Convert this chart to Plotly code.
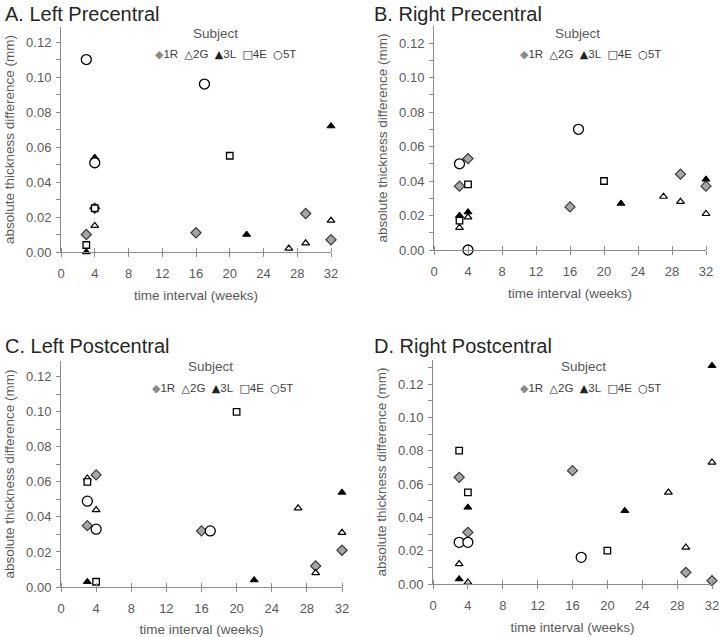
import plotly.graph_objects as go

# ---- data ----
SUBJECTS = ["1R", "2G", "3L", "4E", "5T"]
WEEKS_1R = [3, 4, 16, 29, 32]
WEEKS_2G = [3, 4, 27, 29, 32]
WEEKS_3L = [3, 4, 22, 32]
WEEKS_4E = [3, 4, 20]
WEEKS_5T = [3, 4, 17]

# A. Left Precentral
A_1R = [0.010, 0.025, 0.011, 0.022, 0.007]
A_2G = [None, 0.015, 0.002, 0.005, 0.018]
A_3L = [0.000, 0.054, 0.010, 0.072]
A_4E = [0.004, 0.025, 0.055]
A_5T = [0.110, 0.051, 0.096]

# B. Right Precentral
B_1R = [0.037, 0.053, 0.025, 0.044, 0.037]
B_2G = [0.013, 0.019, 0.031, 0.028, 0.021]
B_3L = [0.020, 0.022, 0.027, 0.041]
B_4E = [0.017, 0.038, 0.040]
B_5T = [0.050, 0.000, 0.070]

# C. Left Postcentral
C_1R = [0.035, 0.064, 0.032, 0.012, 0.021]
C_2G = [0.062, 0.044, 0.045, 0.008, 0.031]
C_3L = [0.003, 0.033, 0.004, 0.054]
C_4E = [0.060, 0.003, 0.100]
C_5T = [0.049, 0.033, 0.032]

# D. Right Postcentral
D_1R = [0.064, 0.031, 0.068, 0.007, 0.002]
D_2G = [0.012, 0.001, 0.055, 0.022, 0.073]
D_3L = [0.003, 0.046, 0.044, 0.131]
D_4E = [0.080, 0.055, 0.020]
D_5T = [0.025, 0.025, 0.016]

PANEL_TITLES = ["A. Left Precentral", "B. Right Precentral",
                "C. Left Postcentral", "D. Right Postcentral"]
X_TICKS = [0, 4, 8, 12, 16, 20, 24, 28, 32]

# ---- styling ----
W, H = 720, 637
FONT = "Liberation Sans, Arial, sans-serif"
AXC = "#8c8c8c"
TXT = "#595959"

STYLES = {
    "1R": dict(symbol="diamond", size=7.8, color="#a6a6a6", line=dict(color="#3a3a3a", width=1.2)),
    "2G": dict(symbol="triangle-up", size=6.8, color="white", line=dict(color="black", width=1.2)),
    "3L": dict(symbol="triangle-up", size=7.0, color="black", line=dict(color="black", width=1.0)),
    "4E": dict(symbol="square", size=6.5, color="white", line=dict(color="black", width=1.3)),
    "5T": dict(symbol="circle", size=10, color="white", line=dict(color="black", width=1.3)),
}

panels = [
    dict(data=[A_1R, A_2G, A_3L, A_4E, A_5T], xd=(61, 331), yd=(252, 27), ymax=0.1286,
         title_xy=(3, 1), subj=(215, 33), items=(225, 54)),
    dict(data=[B_1R, B_2G, B_3L, B_4E, B_5T], xd=(434, 706), yd=(250, 26), ymax=0.1299,
         title_xy=(372, 1), subj=(577, 33), items=(590, 54)),
    dict(data=[C_1R, C_2G, C_3L, C_4E, C_5T], xd=(61, 342), yd=(587, 361), ymax=0.129,
         title_xy=(3, 333), subj=(210, 366), items=(222, 388)),
    dict(data=[D_1R, D_2G, D_3L, D_4E, D_5T], xd=(433, 712), yd=(584, 360), ymax=0.1344,
         title_xy=(372, 333), subj=(583, 366), items=(590, 388)),
]
weeks = [WEEKS_1R, WEEKS_2G, WEEKS_3L, WEEKS_4E, WEEKS_5T]

fig = go.Figure()
annotations = []
layout_axes = {}

G = "<span style='font-family:DejaVu Sans;font-size:11px;color:#222222'>{}</span>"
legend_text = ("<span style='font-family:DejaVu Sans;font-size:11px;color:#8a8a8a'>◆</span>1R&nbsp;&nbsp;"
               + G.format("△") + "2G&nbsp;&nbsp;"
               + G.format("▲") + "3L&nbsp;&nbsp;"
               + G.format("□") + "4E&nbsp;&nbsp;"
               + G.format("○") + "5T")

for i, p in enumerate(panels):
    n = "" if i == 0 else str(i + 1)
    xa, ya = "x" + n, "y" + n
    for s, wk, vals in zip(SUBJECTS, weeks, p["data"]):
        st = STYLES[s]
        fig.add_trace(go.Scatter(
            x=wk, y=vals, mode="markers", name=s, showlegend=False,
            xaxis=xa, yaxis=ya, cliponaxis=False,
            marker=dict(symbol=st["symbol"], size=st["size"], color=st["color"], line=st["line"]),
        ))
    x0, x1 = p["xd"]
    yb, yt = p["yd"]
    layout_axes["xaxis" + n] = dict(
        domain=[x0 / W, x1 / W], anchor=ya, range=[0, 32], automargin=False,
        tickmode="array", tickvals=X_TICKS, ticklabeloverflow="allow",
        showline=True, linecolor=AXC, linewidth=1, showgrid=False, zeroline=False,
        ticks="outside", ticklen=4, tickcolor=AXC, tickwidth=1,
        minor=dict(ticks="inside", tickmode="array", tickvals=[v + 0.001 for v in X_TICKS],
                   ticklen=4, tickcolor=AXC, tickwidth=1),
        tickfont=dict(family=FONT, size=13, color=TXT), ticklabelstandoff=5,
        title=dict(text="time interval (weeks)", font=dict(family=FONT, size=13.5, color=TXT),
                   standoff=10),
    )
    layout_axes["yaxis" + n] = dict(
        domain=[1 - yb / H, 1 - yt / H], anchor=xa, range=[0, p["ymax"]], automargin=False,
        dtick=0.02, tick0=0, tickformat=".2f", ticklabeloverflow="allow",
        showline=True, linecolor=AXC, linewidth=1, showgrid=False, zeroline=False,
        ticks="outside", ticklen=4, tickcolor=AXC, tickwidth=1,
        minor=dict(ticks="outside", dtick=0.01, ticklen=4, tickcolor=AXC, tickwidth=1),
        tickfont=dict(family=FONT, size=13, color=TXT), ticklabelstandoff=2,
        title=dict(text="absolute thickness difference (mm)",
                   font=dict(family=FONT, size=13.5, color=TXT), standoff=8),
    )
    tx, ty = p["title_xy"]
    annotations.append(dict(text=PANEL_TITLES[i], xref="paper", yref="paper",
                            x=tx / W, y=1 - ty / H, xanchor="left", yanchor="top",
                            showarrow=False, font=dict(family=FONT, size=20, color="#262626")))
    sx, sy = p["subj"]
    annotations.append(dict(text="Subject", xref="paper", yref="paper",
                            x=sx / W, y=1 - sy / H, xanchor="center", yanchor="middle",
                            showarrow=False, font=dict(family=FONT, size=13.5, color=TXT)))
    ix, iy = p["items"]
    annotations.append(dict(text=legend_text, xref="paper", yref="paper",
                            x=ix / W, y=1 - iy / H, xanchor="center", yanchor="middle",
                            showarrow=False, font=dict(family=FONT, size=11.5, color="#404040")))

fig.update_layout(
    width=W, height=H, margin=dict(l=0, r=0, t=0, b=0),
    paper_bgcolor="white", plot_bgcolor="white", showlegend=False,
    annotations=annotations, **layout_axes,
)

fig.write_html("out.html", config={"displayModeBar": False},
               post_script="document.body.style.margin='0';"
                           "document.body.style.overflow='hidden';")
